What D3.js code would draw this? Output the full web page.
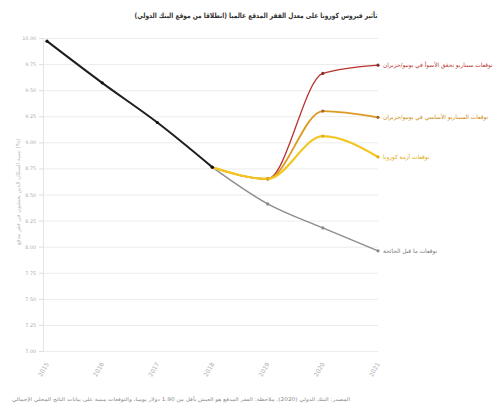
<!DOCTYPE html>
<html>
<head>
<meta charset="utf-8">
<script src="https://cdn.jsdelivr.net/npm/d3@7"></script>
<style>
  body { margin: 0; background: #fff; }
  text { font-family: "DejaVu Sans", sans-serif; }
</style>
</head>
<body>
<svg id="chart" width="499" height="412"></svg>
<script>
// data (extreme poverty rate, %)
const years = ["2015", "2016", "2017", "2018", "2019", "2020", "2021"];
const historic = [9.97, 9.57, 9.19, 8.76];
const preCovid = [null, null, null, 8.76, 8.41, 8.18, 7.96];
const covidBase = [null, null, null, 8.76, 8.65, 9.06, 8.86];
const juneBase = [null, null, null, 8.76, 8.65, 9.30, 9.24];
const juneDown = [null, null, null, 8.76, 8.65, 9.66, 9.74];
const yTicks = [7, 7.25, 7.5, 7.75, 8, 8.25, 8.5, 8.75, 9, 9.25, 9.5, 9.75, 10];

const seriesNames = [
  "توقعات ما قبل الجائحة",
  "توقعات أزمة كورونا",
  "توقعات السيناريو الأساسي في يونيو/حزيران",
  "توقعات سيناريو تحقق الأسوأ في يونيو/حزيران"
];

const svg = d3.select("#chart");
const plotLeft = 43, plotRight = 378, plotTop = 38, plotBottom = 351;

let x = d3.scalePoint()
  .domain(years)
  .range([plotLeft + 4, plotRight]);
let y = d3.scaleLinear()
  .domain([7, 10])
  .range([plotBottom, plotTop]);

// title
svg.append("text")
  .attr("x", 256)
  .attr("y", 18)
  .attr("textLength", 243)
  .attr("lengthAdjust", "spacingAndGlyphs")
  .text("تأثير فيروس كورونا على معدل الفقر المدقع عالميا (انطلاقا من موقع البنك الدولي)")
  .style("text-anchor", "middle")
  .style("font-size", 7.2)
  .style("font-weight", "bold")
  .style("fill", "#333");

// grid lines
svg.append("g")
  .attr("transform", "translate(" + plotLeft + ",0)")
  .call(d3.axisLeft(y).tickValues(yTicks).tickSize(-(plotRight - plotLeft)).tickFormat(""))
  .call(g => g.select(".domain").remove())
  .call(g => g.selectAll("line").attr("stroke", "#ececec"));

// y axis
svg.append("g")
  .attr("transform", "translate(" + plotLeft + ",0)")
  .call(d3.axisLeft(y).tickValues(yTicks).tickSize(4).tickPadding(3).tickFormat(d3.format(".2f")))
  .call(g => g.select(".domain").attr("stroke", "#e4e4e4"))
  .call(g => g.selectAll("line").attr("stroke", "#ddd"))
  .call(g => g.selectAll("text").style("font-size", 4.8).style("fill", "#aaa"));

// y axis title
svg.append("text")
  .attr("transform", "translate(20," + 192 + ") rotate(-90)")
  .text("نسبة السكان الذين يعيشون في فقر مدقع (%)")
  .style("text-anchor", "middle")
  .style("font-size", 5.5)
  .style("fill", "#bbb");

// x axis
svg.append("g")
  .attr("transform", "translate(0," + plotBottom + ")")
  .call(d3.axisBottom(x).tickSize(0).tickPadding(0))
  .call(g => g.select(".domain").remove())
  .call(g => g.selectAll("text")
    .attr("transform", "translate(0,12) rotate(-60)")
    .attr("dy", "0.3em")
    .style("text-anchor", "end")
    .style("font-size", 6)
    .style("fill", "#aaa"));

const line = d3.line()
  .defined(d => d != null)
  .x((d, i) => x(years[i]))
  .y(d => y(d))
  .curve(d3.curveMonotoneX);

function addSeries(values, color, width, dotColor, name, labelColor) {
  svg.append("path")
    .datum(values)
    .attr("d", line)
    .attr("fill", "none")
    .attr("stroke", color)
    .attr("stroke-width", width);
  svg.selectAll(null)
    .data(values.map((v, i) => ({ v: v, i: i })).filter(d => d.v != null))
    .enter()
    .append("circle")
      .attr("cx", d => x(years[d.i]))
      .attr("cy", d => y(d.v))
      .attr("r", 1.6)
      .style("fill", dotColor);
  if (name) {
    svg.append("text")
      .attr("x", plotRight + 5)
      .attr("y", y(values[values.length - 1]))
      .attr("dy", "0.35em")
      .text(name)
      .style("text-anchor", "start")
      .style("font-size", 5.8)
      .style("fill", labelColor);
  }
}

addSeries(preCovid, "#8c8c8c", 1.3, "#888", seriesNames[0], "#777");
addSeries(juneDown, "#b8322e", 1.3, "#8c2a2a", seriesNames[3], "#b8322e");
addSeries(juneBase, "#dd9a1f", 1.8, "#a0662a", seriesNames[2], "#cf8a10");
addSeries(covidBase, "#f3c623", 2.2, "#e0b010", seriesNames[1], "#e0a800");
addSeries(historic, "#1e1e1e", 2, "#111", null, null);

// source note
svg.append("text")
  .attr("x", 350)
  .attr("y", 401)
  .attr("textLength", 338)
  .attr("lengthAdjust", "spacingAndGlyphs")
  .text("المصدر: البنك الدولي (2020). ملاحظة: الفقر المدقع هو العيش بأقل من 1.90 دولار يوميا، والتوقعات مبنية على بيانات الناتج المحلي الإجمالي")
  .style("text-anchor", "end")
  .style("font-size", 5)
  .style("fill", "#888");
</script>
</body>
</html>
